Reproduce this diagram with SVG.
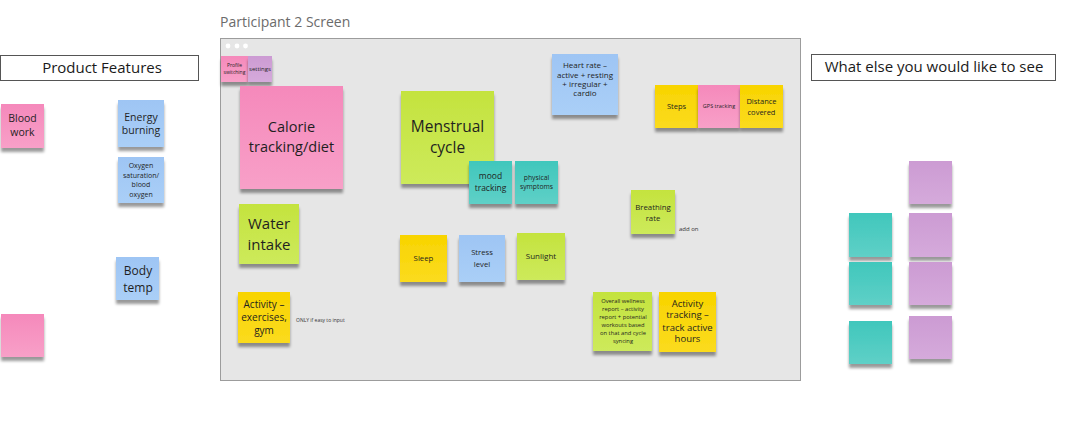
<svg xmlns="http://www.w3.org/2000/svg" width="1068" height="434" viewBox="0 0 1068 434">
<defs>
<filter id="sh" x="-20%" y="-20%" width="140%" height="150%">
<feGaussianBlur in="SourceAlpha" stdDeviation="1.6"/>
<feOffset dy="3.5" result="o"/>
<feComponentTransfer><feFuncA type="linear" slope="0.4"/></feComponentTransfer>
<feMerge><feMergeNode/><feMergeNode in="SourceGraphic"/></feMerge>
</filter>
<linearGradient id="gPk" x1="0" y1="0" x2="0" y2="1"><stop offset="0" stop-color="#f589bb"/><stop offset="1" stop-color="#f8a0c8"/></linearGradient>
<linearGradient id="gBl" x1="0" y1="0" x2="0" y2="1"><stop offset="0" stop-color="#9ec5f4"/><stop offset="1" stop-color="#aacff7"/></linearGradient>
<linearGradient id="gLm" x1="0" y1="0" x2="0" y2="1"><stop offset="0" stop-color="#c4e33e"/><stop offset="1" stop-color="#cdea5b"/></linearGradient>
<linearGradient id="gYl" x1="0" y1="0" x2="0" y2="1"><stop offset="0" stop-color="#f8d400"/><stop offset="1" stop-color="#fbdb1e"/></linearGradient>
<linearGradient id="gTl" x1="0" y1="0" x2="0" y2="1"><stop offset="0" stop-color="#40c7bc"/><stop offset="1" stop-color="#5fd0c7"/></linearGradient>
<linearGradient id="gPu" x1="0" y1="0" x2="0" y2="1"><stop offset="0" stop-color="#cc9bd3"/><stop offset="1" stop-color="#d5aadb"/></linearGradient>
</defs>
<style>
.n{filter:url(#sh)}
.pk{fill:url(#gPk)}
.bl{fill:url(#gBl)}
.lm{fill:url(#gLm)}
.yl{fill:url(#gYl)}
.tl{fill:url(#gTl)}
.pu{fill:url(#gPu)}
text{font-family:"Open Sans","Liberation Sans",sans-serif}
.t{fill:#1f1f1f;text-anchor:middle}
.c{fill:#333;text-anchor:start}
.hdr{fill:#fff;stroke:#555;stroke-width:1}
.ht{fill:#1a1a1a;text-anchor:middle;font-size:15px}
</style>
<rect width="1068" height="434" fill="#ffffff"/>

<text x="220" y="27" font-size="14" fill="#6b6b6b">Participant 2 Screen</text>

<g id="screen">
<rect x="220.5" y="38.5" width="580" height="342" fill="#e6e6e6" stroke="#9c9c9c" stroke-width="1"/>
<circle cx="228" cy="46" r="2.4" fill="#fff"/>
<circle cx="237" cy="46" r="2.4" fill="#fff"/>
<circle cx="245.5" cy="46" r="2.4" fill="#fff"/>
</g>

<g id="hdr-product-features">
<rect class="hdr" x="0.5" y="55.5" width="198" height="25"/>
<text class="ht" x="102" y="73">Product Features</text>
</g>
<g id="hdr-what-else">
<rect class="hdr" x="811.5" y="54.5" width="244" height="26"/>
<text class="ht" x="934" y="72">What else you would like to see</text>
</g>

<g id="connectors"></g>

<g id="n-profile"><rect class="n pk" x="221" y="56" width="27" height="26"/>
<text class="t" font-size="5" x="234.5" y="67">Profile</text><text class="t" font-size="5" x="234.5" y="73.5">switching</text></g>
<g id="n-settings"><rect class="n pu" x="248" y="56" width="24" height="26"/>
<text class="t" font-size="6" x="260" y="71">settings</text></g>

<g id="n-calorie"><rect class="n pk" x="240" y="86" width="103" height="103"/>
<text class="t" font-size="14.5" x="291.5" y="131.5">Calorie</text><text class="t" font-size="14.5" x="291.5" y="151.5">tracking/diet</text></g>

<g id="n-water"><rect class="n lm" x="239" y="204" width="60" height="60"/>
<text class="t" font-size="15" x="269" y="229">Water</text><text class="t" font-size="15" x="269" y="250">intake</text></g>

<g id="n-activity"><rect class="n yl" x="238" y="292" width="52" height="51"/>
<text class="t" font-size="10" x="264" y="307.5">Activity –</text><text class="t" font-size="10" x="264" y="320.8">exercises,</text><text class="t" font-size="10" x="264" y="333.5">gym</text></g>
<text id="t-only" class="c" font-size="5" x="296" y="322">ONLY if easy to input</text>

<g id="n-menstrual"><rect class="n lm" x="401" y="91" width="93" height="93"/>
<text class="t" font-size="15.5" x="447.5" y="131.5">Menstrual</text><text class="t" font-size="15.5" x="447.5" y="152.5">cycle</text></g>

<g id="n-mood"><rect class="n tl" x="469" y="161" width="43" height="43"/>
<text class="t" font-size="8.5" x="490.5" y="179">mood</text><text class="t" font-size="8.5" x="490.5" y="191">tracking</text></g>
<g id="n-physical"><rect class="n tl" x="515" y="161" width="43" height="43"/>
<text class="t" font-size="6.8" x="536.5" y="180">physical</text><text class="t" font-size="6.8" x="536.5" y="189">symptoms</text></g>

<g id="n-heart"><rect class="n bl" x="552" y="54" width="66" height="61"/>
<text class="t" font-size="8" x="585" y="67.8">Heart rate –</text><text class="t" font-size="8" x="585" y="77.5">active + resting</text><text class="t" font-size="8" x="585" y="87">+ irregular +</text><text class="t" font-size="8" x="585" y="96.3">cardio</text></g>

<g id="n-steps"><rect class="n yl" x="655" y="85" width="43" height="43"/>
<text class="t" font-size="7.5" x="676.5" y="108.5">Steps</text></g>
<g id="n-gps"><rect class="n pk" x="698" y="85" width="42" height="43"/>
<text class="t" font-size="5.5" x="719" y="108">GPS tracking</text></g>
<g id="n-distance"><rect class="n yl" x="740" y="85" width="43" height="43"/>
<text class="t" font-size="7.5" x="761.5" y="104.3">Distance</text><text class="t" font-size="7.5" x="761.5" y="115">covered</text></g>

<g id="n-breathing"><rect class="n lm" x="631" y="190" width="44" height="44"/>
<text class="t" font-size="7.8" x="653" y="209.5">Breathing</text><text class="t" font-size="7.8" x="653" y="221">rate</text></g>
<text id="t-addon" class="c" font-size="6" x="679" y="230.5">add on</text>

<g id="n-sleep"><rect class="n yl" x="400" y="235" width="47" height="47"/>
<text class="t" font-size="7.8" x="423.5" y="261">Sleep</text></g>
<g id="n-stress"><rect class="n bl" x="459" y="235" width="46" height="47"/>
<text class="t" font-size="7.7" x="482" y="255">Stress</text><text class="t" font-size="7.7" x="482" y="266.5">level</text></g>
<g id="n-sunlight"><rect class="n lm" x="517" y="233" width="48" height="47"/>
<text class="t" font-size="8" x="541" y="259">Sunlight</text></g>

<g id="n-wellness"><rect class="n lm" x="593" y="292" width="59" height="59"/>
<text class="t" font-size="5.8" x="623" y="303">Overall wellness</text><text class="t" font-size="5.8" x="623" y="311">report – activity</text><text class="t" font-size="5.8" x="623" y="319">report + potential</text><text class="t" font-size="5.8" x="623" y="327">workouts based</text><text class="t" font-size="5.8" x="623" y="335">on that and cycle</text><text class="t" font-size="5.8" x="623" y="343">syncing</text></g>

<g id="n-acttrack"><rect class="n yl" x="659" y="292" width="57" height="60"/>
<text class="t" font-size="9.5" x="687.5" y="306.6">Activity</text><text class="t" font-size="9.5" x="687.5" y="318.3">tracking –</text><text class="t" font-size="9.5" x="687.5" y="331">track active</text><text class="t" font-size="9.5" x="687.5" y="342.3">hours</text></g>

<g id="n-blood"><rect class="n pk" x="1" y="104" width="43" height="44"/>
<text class="t" font-size="10.5" x="22.5" y="121.7">Blood</text><text class="t" font-size="10.5" x="22.5" y="136">work</text></g>
<g id="n-energy"><rect class="n bl" x="118" y="100" width="46" height="47"/>
<text class="t" font-size="10.5" x="141" y="120.7">Energy</text><text class="t" font-size="10.5" x="141" y="134">burning</text></g>
<g id="n-oxygen"><rect class="n bl" x="118" y="157" width="46" height="46"/>
<text class="t" font-size="7" x="141" y="167.5">Oxygen</text><text class="t" font-size="7" x="141" y="177.5">saturation/</text><text class="t" font-size="7" x="141" y="187">blood</text><text class="t" font-size="7" x="141" y="196.5">oxygen</text></g>
<g id="n-body"><rect class="n bl" x="116" y="257" width="43" height="43"/>
<text class="t" font-size="12" x="138" y="274.5">Body</text><text class="t" font-size="12" x="138" y="291.5">temp</text></g>
<g id="n-pink-empty"><rect class="n pk" x="1" y="314" width="43" height="43"/></g>

<g id="n-purple-1"><rect class="n pu" x="909" y="161" width="43" height="43"/></g>
<g id="n-purple-2"><rect class="n pu" x="909" y="213" width="43" height="44"/></g>
<g id="n-purple-3"><rect class="n pu" x="909" y="262" width="43" height="43"/></g>
<g id="n-purple-4"><rect class="n pu" x="909" y="316" width="43" height="43"/></g>
<g id="n-teal-1"><rect class="n tl" x="849" y="213" width="43" height="44"/></g>
<g id="n-teal-2"><rect class="n tl" x="849" y="262" width="43" height="43"/></g>
<g id="n-teal-3"><rect class="n tl" x="849" y="321" width="43" height="43"/></g>
</svg>
